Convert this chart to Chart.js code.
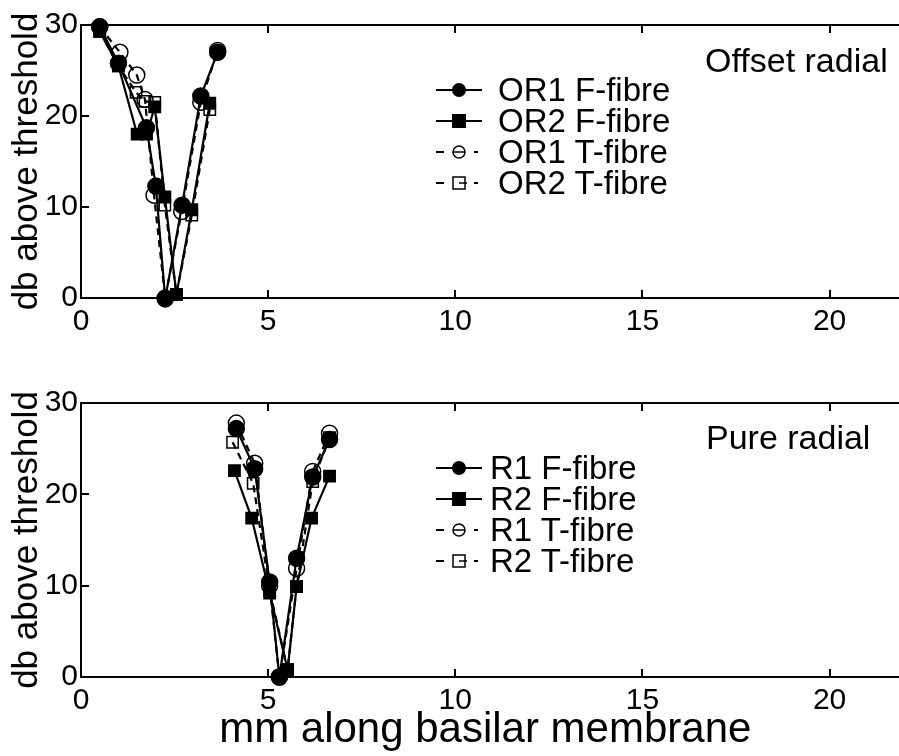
<!DOCTYPE html>
<html lang="en">
<head>
<meta charset="UTF-8">
<title>Offset and pure radial thresholds</title>
<script src="https://cdn.jsdelivr.net/npm/chart.js"></script>
<style>
    body {
        margin: 0;
        background: #fff;
        font-family: 'Liberation Sans', Arial, sans-serif;
    }
    #page {
        position: relative;
        width: 899px;
        height: 756px;
        overflow: hidden;
    }
    canvas {
        position: absolute;
        left: 0;
    }
    .note {
        position: absolute;
        font-size: 34px;
        line-height: 34px;
        color: #000;
        white-space: nowrap;
    }
    .legend {
        position: absolute;
        font-size: 33px;
        color: #000;
    }
    .legend div {
        height: 31px;
        line-height: 31px;
        white-space: nowrap;
        display: flex;
        align-items: center;
    }
</style>
</head>
<body>
<div id="page">
    <canvas id="offsetChart" width="899" height="345" style="top:0"></canvas>
    <canvas id="pureChart" width="899" height="411" style="top:345px"></canvas>

    <div class="note" style="left:705px; top:43px">Offset radial</div>
    <div class="legend" id="offsetLegend" style="left:435px; top:74px"></div>

    <div class="note" style="left:706px; top:420px">Pure radial</div>
    <div class="legend" id="pureLegend" style="left:435px; top:452px"></div>
</div>

<script>
    // mm along basilar membrane / db above threshold
    const or1FX = [0.5, 1.0, 1.75, 2.0, 2.25, 2.7, 3.2, 3.65];
    const or1FY = [29.8, 25.8, 18.7, 12.3, -0.1, 10.2, 22.2, 27.0];
    const or2FX = [0.5, 1.0, 1.5, 1.75, 1.97, 2.24, 2.55, 2.96, 3.44];
    const or2FY = [29.3, 25.5, 18.0, 18.0, 21.0, 11.1, 0.4, 9.7, 21.4];
    const or1TX = [0.5, 1.04, 1.49, 1.71, 1.95, 2.25, 2.69, 3.2, 3.65];
    const or1TY = [29.8, 27.0, 24.5, 21.8, 11.3, 0.0, 9.5, 21.5, 27.2];
    const or2TX = [0.5, 1.0, 1.47, 1.71, 1.97, 2.24, 2.55, 2.96, 3.44];
    const or2TY = [29.3, 25.5, 22.6, 21.6, 21.5, 10.2, 0.4, 9.1, 20.7];

    const r1FX = [4.15, 4.64, 5.04, 5.3, 5.76, 6.19, 6.64];
    const r1FY = [27.2, 22.8, 10.4, 0.0, 13.0, 21.9, 26.0];
    const r2FX = [4.1, 4.56, 5.04, 5.52, 5.76, 6.16, 6.64];
    const r2FY = [22.6, 17.4, 9.2, 0.8, 9.9, 17.4, 22.0];
    const r1TX = [4.15, 4.64, 5.04, 5.3, 5.76, 6.19, 6.64];
    const r1TY = [27.8, 23.4, 10.0, 0.0, 11.9, 22.5, 26.7];
    const r2TX = [4.05, 4.6, 5.04, 5.52, 5.76, 6.19, 6.64];
    const r2TY = [25.7, 21.2, 9.5, 0.8, 9.9, 21.4, 26.2];

    const xTicks = [0, 5, 10, 15, 20];
    const yTicks = [0, 10, 20, 30];

    const offsetNames = ['OR1 F-fibre', 'OR2 F-fibre', 'OR1 T-fibre', 'OR2 T-fibre'];
    const pureNames = ['R1 F-fibre', 'R2 F-fibre', 'R1 T-fibre', 'R2 T-fibre'];

    const fontFamily = "'Liberation Sans', Arial, sans-serif";

    function toPoints(xs, ys) {
        return xs.map((x, i) => ({ x: x, y: ys[i] }));
    }

    // filled = F-fibre (solid), open = T-fibre (dashed)
    function makeSet(label, xs, ys, style, filled) {
        return {
            label: label,
            data: toPoints(xs, ys),
            borderColor: '#000',
            borderWidth: 2.2,
            borderDash: filled ? [] : [7, 5],
            pointStyle: style,
            pointRadius: 8,
            pointBorderWidth: 1.5,
            pointBorderColor: '#000',
            pointBackgroundColor: filled ? '#000' : 'rgba(0,0,0,0)',
            tension: 0,
            clip: false
        };
    }

    // frame lines run to the page edge; tick marks point into the plot
    const frame = {
        id: 'frame',
        afterDraw(chart) {
            const ctx = chart.ctx;
            const area = chart.chartArea;
            const xs = chart.scales.x;
            const ys = chart.scales.y;
            ctx.save();
            ctx.strokeStyle = '#000';
            ctx.lineWidth = 2;
            ctx.beginPath();
            ctx.moveTo(area.left, area.top);
            ctx.lineTo(chart.width, area.top);
            ctx.moveTo(area.left - 1, area.bottom);
            ctx.lineTo(chart.width, area.bottom);
            xTicks.slice(1).forEach(v => {
                const px = Math.round(xs.getPixelForValue(v));
                ctx.moveTo(px, area.bottom);
                ctx.lineTo(px, area.bottom - 8);
                ctx.moveTo(px, area.top);
                ctx.lineTo(px, area.top + 8);
            });
            yTicks.slice(1).forEach(v => {
                const py = Math.round(ys.getPixelForValue(v));
                ctx.moveTo(area.left, py);
                ctx.lineTo(area.left + 8, py);
            });
            ctx.stroke();
            ctx.restore();
        }
    };

    function makeChart(id, sets, topPad, xAxisHeight, showXTitle) {
        return new Chart(document.getElementById(id), {
            type: 'line',
            data: { datasets: sets },
            options: {
                responsive: false,
                animation: false,
                layout: { padding: { top: topPad, right: 0, bottom: 0, left: 0 } },
                plugins: {
                    legend: { display: false },
                    tooltip: { enabled: false }
                },
                scales: {
                    x: {
                        type: 'linear',
                        min: 0,
                        max: 21.6,
                        afterBuildTicks: s => { s.ticks = xTicks.map(v => ({ value: v })); },
                        afterFit: s => { s.height = xAxisHeight; },
                        grid: { drawOnChartArea: false, drawTicks: false },
                        border: { display: false },
                        ticks: {
                            color: '#000',
                            padding: 6,
                            maxRotation: 0,
                            font: { family: fontFamily, size: 30 }
                        },
                        title: {
                            display: showXTitle,
                            text: 'mm along basilar membrane',
                            color: '#000',
                            padding: { top: 0, bottom: 0 },
                            font: { family: fontFamily, size: 42 }
                        }
                    },
                    y: {
                        min: 0,
                        max: 30,
                        afterBuildTicks: s => { s.ticks = yTicks.map(v => ({ value: v })); },
                        afterFit: s => { s.width = 81; },
                        grid: { drawOnChartArea: false, drawTicks: false },
                        border: { color: '#000', width: 2 },
                        ticks: {
                            color: '#000',
                            padding: 3,
                            font: { family: fontFamily, size: 30 }
                        },
                        title: {
                            display: true,
                            text: 'db above threshold',
                            color: '#000',
                            padding: { top: 6, bottom: 0 },
                            font: { family: fontFamily, size: 35 }
                        }
                    }
                }
            },
            plugins: [frame]
        });
    }

    makeChart('offsetChart', [
        makeSet(offsetNames[0], or1FX, or1FY, 'circle', true),
        makeSet(offsetNames[1], or2FX, or2FY, 'rect', true),
        makeSet(offsetNames[2], or1TX, or1TY, 'circle', false),
        makeSet(offsetNames[3], or2TX, or2TY, 'rect', false)
    ], 25, 47, false);

    makeChart('pureChart', [
        makeSet(pureNames[0], r1FX, r1FY, 'circle', true),
        makeSet(pureNames[1], r2FX, r2FY, 'rect', true),
        makeSet(pureNames[2], r1TX, r1TY, 'circle', false),
        makeSet(pureNames[3], r2TX, r2TY, 'rect', false)
    ], 58, 79, true);

    // legend rows: line sample with marker, then label
    function symbol(kind) {
        const solid = kind < 2;
        const line = solid
            ? '<line x1="1" y1="15" x2="47" y2="15" stroke="#000" stroke-width="2"/>'
            : '<line x1="1" y1="15" x2="9" y2="15" stroke="#000" stroke-width="2"/>' +
              '<line x1="39" y1="15" x2="43" y2="15" stroke="#000" stroke-width="2"/>';
        let mark;
        if (kind === 0) mark = '<circle cx="24" cy="15" r="7" fill="#000"/>';
        if (kind === 1) mark = '<rect x="17" y="8" width="14" height="14" fill="#000"/>';
        if (kind === 2) mark = '<circle cx="24" cy="15" r="6" fill="none" stroke="#000" stroke-width="1.5"/>' +
            '<line x1="18" y1="15" x2="30" y2="15" stroke="#000" stroke-width="1.5"/>';
        if (kind === 3) mark = '<rect x="18" y="9" width="12" height="12" fill="none" stroke="#000" stroke-width="1.5"/>' +
            '<line x1="24" y1="15" x2="32" y2="15" stroke="#000" stroke-width="1.5"/>';
        return '<svg width="48" height="30">' + line + mark + '</svg>';
    }

    function fillLegend(id, names, gap) {
        const box = document.getElementById(id);
        names.forEach((name, i) => {
            const row = document.createElement('div');
            row.innerHTML = symbol(i) + '<span>' + name + '</span>';
            row.querySelector('svg').style.marginRight = gap + 'px';
            box.appendChild(row);
        });
    }

    fillLegend('offsetLegend', offsetNames, 15);
    fillLegend('pureLegend', pureNames, 7);
</script>
</body>
</html>
